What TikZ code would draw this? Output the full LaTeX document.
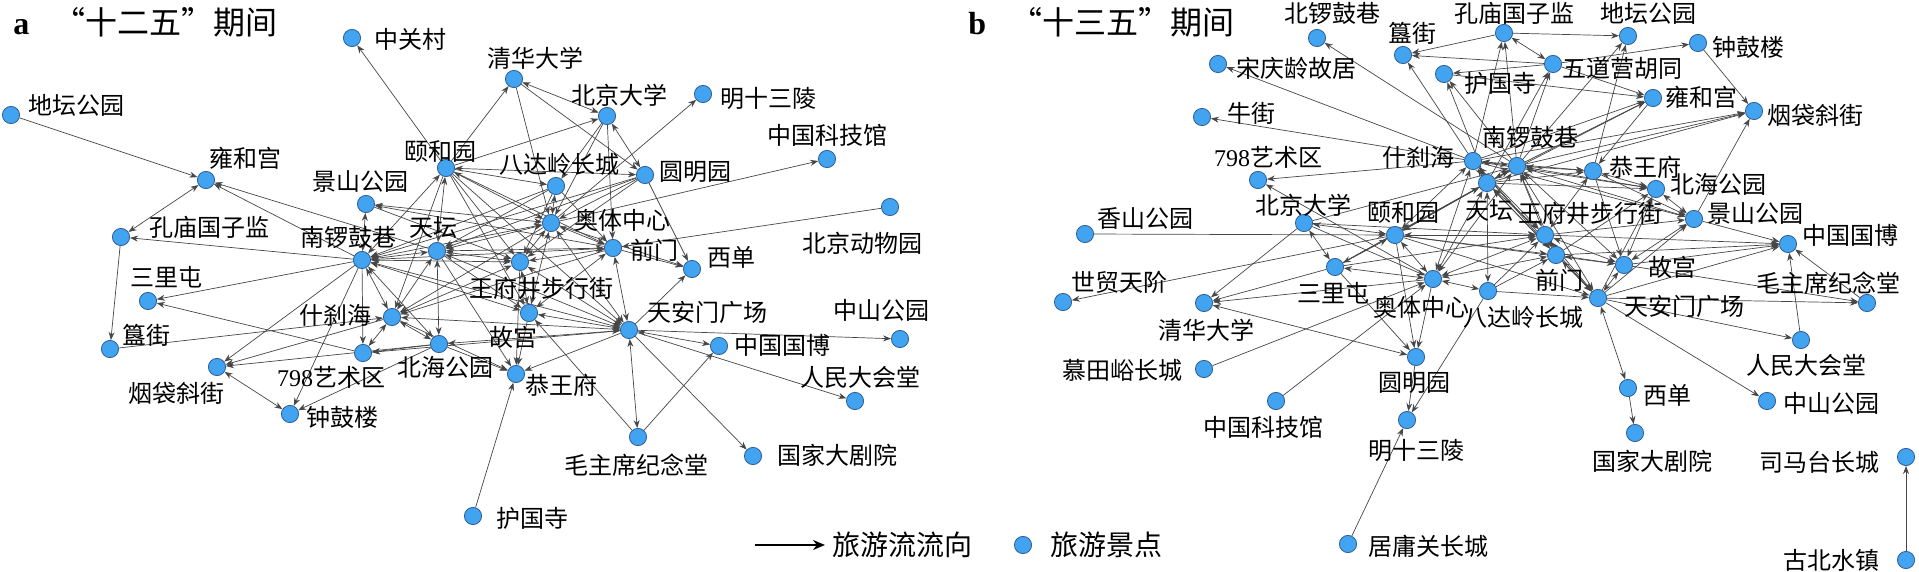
\documentclass[tikz,border=0pt]{standalone}
\usepackage{fontspec}
\setmainfont{Liberation Serif}
\newfontfamily\cjk{Noto Sans CJK SC}
\usetikzlibrary{arrows.meta,backgrounds}

\definecolor{spotfill}{RGB}{66,163,240}
\definecolor{spotline}{RGB}{45,95,150}
\definecolor{flowgray}{RGB}{70,70,70}

\begin{document}
\begin{tikzpicture}[
    x=0.5pt, y=-0.5pt,
    >={Stealth[length=4pt,width=3pt]},
    spot/.style={circle, fill=spotfill, draw=spotline, line width=0.4pt, inner sep=0pt, minimum size=8.6pt},
    lbl/.style={font=\cjk\fontsize{12}{12}\selectfont, inner sep=0pt},
    flow/.style={draw=flowgray, line width=0.35pt},
    titulo/.style={font=\fontsize{16}{16}\selectfont, inner sep=0pt, anchor=west},
    leyenda/.style={font=\cjk\fontsize{14}{14}\selectfont, inner sep=0pt, anchor=west}
  ]
  \useasboundingbox (0,0) rectangle (1919,572);

  % --- TITULOS ---
  \node[titulo] (ta) at (13,22) {\textbf{a}\hspace{12pt}{\cjk “十二五”期间}};
  \node[titulo] (tb) at (968,22) {\textbf{b}\hspace{12pt}{\cjk “十三五”期间}};

  % --- PANEL a: NODOS (nombre/x/y/etiqueta x/etiqueta y/texto) ---
  \foreach \n/\x/\y/\lx/\ly/\txt in {
      aZGC/352/38/410/39/中关村, aDTGY/11/115/76/105/地坛公园,
      aYHG/206/180/245/158/雍和宫, aYHY/446/168/440/152/颐和园,
      aJSGY/366/204/360/182/景山公园, aKMGZJ/121/237/209/227/孔庙国子监,
      aNLGX/362/260/348/237/南锣鼓巷, aTT/437/251/433/228/天坛,
      aSLT/148/301/166/277/三里屯, aQHDX/514/79/535/58/清华大学,
      aBJDX/607/116/619/95/北京大学, aMSSL/703/94/768/98/明十三陵,
      aZGKJG/827/159/827/135/中国科技馆, aYMY/645/175/695/172/圆明园,
      aBDL/556/186/559/164/八达岭长城, aBJDWY/890/207/862/243/北京动物园,
      aATZX/551/223/622/220/奥体中心, aQM/613/248/654/250/前门,
      aXD/692/269/731/257/西单, aWFJ/520/262/541/288/王府井步行街,
      aSCH/392/317/335/315/什刹海, aGJ/110/349/146/335/簋街,
      aBHGY/439/344/445/367/北海公园, a798/363/353/331/377/{\rmfamily 798}艺术区,
      aYDXJ/217/367/176/393/烟袋斜街, aZGL/290/414/342/417/钟鼓楼,
      aGG/529/313/513/337/故宫, aTAM/629/330/707/312/天安门广场,
      aZGGB/719/346/782/345/中国国博, aZSGY/900/339/881/310/中山公园,
      aGWF/516/374/561/385/恭王府, aRMDHT/855/401/860/377/人民大会堂,
      aMZX/638/437/636/465/毛主席纪念堂, aGJDJY/753/456/837/455/国家大剧院,
      aHGS/473/516/532/518/护国寺} {
    \node[spot] (\n) at (\x,\y) {};
    \node[lbl] (\n-l) at (\lx,\ly) {\txt};
  }

  % --- PANEL b: NODOS ---
  \foreach \n/\x/\y/\lx/\ly/\txt in {
      bBLGX/1317/38/1332/13/北锣鼓巷, bGJ/1403/55/1412/33/簋街,
      bSQL/1218/64/1296/68/宋庆龄故居, bHGS/1444/74/1500/83/护国寺,
      bNJ/1202/117/1251/113/牛街, bSCH/1473/161/1418/157/什刹海,
      b798/1258/180/1268/157/{\rmfamily 798}艺术区, bXSGY/1085/234/1145/218/香山公园,
      bBJDX/1304/223/1303/205/北京大学, bYHY/1395/235/1403/213/颐和园,
      bSLT/1335/267/1333/293/三里屯, bATZX/1433/279/1421/307/奥体中心,
      bKMGZJ/1504/33/1514/13/孔庙国子监, bDTGY/1628/36/1648/13/地坛公园,
      bZGL/1698/43/1748/47/钟鼓楼, bWDY/1553/64/1622/68/五道营胡同,
      bYHG/1653/98/1701/97/雍和宫, bYDXJ/1754/111/1815/115/烟袋斜街,
      bNLGX/1517/166/1530/137/南锣鼓巷, bTT/1487/183/1489/211/天坛,
      bGWF/1593/171/1645/167/恭王府, bBHGY/1656/189/1718/184/北海公园,
      bJSGY/1694/219/1755/214/景山公园, bZGGB/1788/244/1850/235/中国国博,
      bWFJ/1545/235/1590/213/王府井步行街, bQM/1556/255/1559/280/前门,
      bGG/1624/265/1672/267/故宫, bBDL/1488/291/1523/317/八达岭长城,
      bTAM/1598/298/1684/306/天安门广场, bMZX/1867/303/1828/283/毛主席纪念堂,
      bRMDHT/1801/340/1806/365/人民大会堂, bXD/1628/388/1667/395/西单,
      bZSGY/1767/401/1831/403/中山公园, bGJDJY/1635/433/1652/461/国家大剧院,
      bSMT/1906/457/1819/462/司马台长城, bGBSZ/1906/560/1831/560/古北水镇,
      bSMDJ/1063/302/1119/282/世贸天阶, bQHDX/1204/303/1206/330/清华大学,
      bMTY/1204/369/1122/370/慕田峪长城, bYMY/1416/357/1414/383/圆明园,
      bZGKJG/1276/401/1263/427/中国科技馆, bMSSL/1407/420/1416/450/明十三陵,
      bJYG/1348/544/1428/546/居庸关长城} {
    \node[spot] (\n) at (\x,\y) {};
    \node[lbl] (\n-l) at (\lx,\ly) {\txt};
  }

  % --- FLUJOS (debajo de los nodos) ---
  \begin{scope}[on background layer]
    % panel a, un sentido
    \foreach \s/\e in {aYHY/aZGC, aDTGY/aYHG, aNLGX/aYHG, aTT/aYHG, aNLGX/aKMGZJ,
        aKMGZJ/aGJ, aNLGX/aSLT, a798/aSLT, aGJ/aSCH, aNLGX/aYDXJ, aSCH/aYDXJ,
        aBHGY/aYDXJ, aNLGX/aZGL, aBHGY/aZGL, aBHGY/a798, aHGS/aGWF, aMZX/aZGGB,
        aMZX/aGG, aTAM/aGJDJY, aTAM/aRMDHT, aTAM/aZSGY, aTAM/aXD, aYMY/aXD,
        aQM/aXD, aATZX/aXD, aBJDWY/aQM, aATZX/aZGKJG, aATZX/aMSSL, aYHY/aQHDX,
        aYHY/aBJDX, aQHDX/aYMY, aBJDX/aQM, aQHDX/aATZX, aBJDX/aBDL, aBJDX/aATZX,
        aYHY/aWFJ, aYHY/aQM, aYHY/aGG, aYHY/aBDL, aQM/aJSGY, aJSGY/aWFJ,
        aBDL/aNLGX, aBDL/aTT, aBDL/aQM, aBDL/aWFJ, aYMY/aATZX, aYMY/aTT,
        aYMY/aNLGX, aYMY/aWFJ, aTAM/aGWF, aWFJ/aGWF, aTAM/a798, aNLGX/a798,
        aSCH/aGWF, aGG/aGWF, aBHGY/aGWF, aTT/aGG, aTT/aGWF, aATZX/aSCH,
        aQM/aSCH, aYHY/aTAM, aYHY/aSCH}
      \draw[flow, ->] (\s) -- (\e);
    % panel a, doble sentido
    \foreach \s/\e in {aYHG/aKMGZJ, aYDXJ/aZGL, a798/aSCH, aMZX/aTAM, aTAM/aZGGB,
        aQHDX/aBJDX, aBJDX/aYMY, aYHY/aYMY, aNLGX/aTT, aNLGX/aWFJ, aNLGX/aATZX,
        aNLGX/aQM, aNLGX/aSCH, aNLGX/aBHGY, aNLGX/aGG, aNLGX/aTAM, aNLGX/aYHY,
        aNLGX/aJSGY, aTT/aWFJ, aTT/aATZX, aTT/aQM, aTT/aYHY, aTT/aTAM, aTT/aBHGY,
        aTT/aSCH, aATZX/aWFJ, aATZX/aQM, aATZX/aBDL, aATZX/aYHY, aATZX/aTAM,
        aATZX/aGG, aATZX/aJSGY, aQM/aWFJ, aQM/aTAM, aQM/aGG, aWFJ/aGG, aWFJ/aTAM,
        aWFJ/aSCH, aSCH/aBHGY, aSCH/aTAM, aGG/aTAM, aBHGY/aTAM}
      \draw[flow, <->] (\s) -- (\e);
    % panel b, un sentido
    \foreach \s/\e in {bNLGX/bBLGX, bSCH/bSQL, bSCH/bNJ, bSCH/b798, bATZX/b798,
        bXSGY/bYHY, bYHY/bSMDJ, bBJDX/bQHDX, bSLT/bQHDX, bATZX/bQHDX, bMTY/bATZX,
        bZGKJG/bATZX, bATZX/bYMY, bSLT/bYMY, bYHY/bYMY, bYMY/bMSSL, bJYG/bMSSL,
        bBDL/bMSSL, bXD/bGJDJY, bTAM/bZSGY, bTAM/bRMDHT, bTAM/bMZX, bMZX/bZGGB,
        bRMDHT/bZGGB, bGG/bMZX, bTAM/bZGGB, bGG/bZGGB, bQM/bZGGB, bWFJ/bZGGB,
        bJSGY/bZGGB, bJSGY/bYDXJ, bZGL/bYDXJ, bWDY/bZGL, bKMGZJ/bDTGY, bWDY/bYHG,
        bNLGX/bDTGY, bGWF/bDTGY, bSCH/bKMGZJ, bNLGX/bKMGZJ, bKMGZJ/bGJ, bWDY/bGJ,
        bSCH/bGJ, bWDY/bHGS, bNLGX/bHGS, bTT/bHGS, bNLGX/bYHG, bYHG/bGWF,
        bSCH/bYHG, bTT/bYHG, bNLGX/bYDXJ, bSCH/bYDXJ, bTT/bYDXJ, bHGS/bYHG,
        bGBSZ/bSMT, bBJDX/bNLGX, bSLT/bNLGX, bSLT/bTT, bBDL/bTAM, bBDL/bWFJ,
        bBDL/bQM, bYHY/bQM, bYHY/bGG, bYHY/bTAM, bSCH/bBHGY, bSCH/bJSGY,
        bTT/bGWF, bTT/bBHGY, bGWF/bGG, bGWF/bJSGY, bTAM/bJSGY, bTAM/bBHGY,
        bQM/bBHGY, bWFJ/bJSGY, bSCH/bQM, bSCH/bTAM, bBJDX/bATZX, bBJDX/bWFJ,
        bSLT/bWFJ, bNLGX/bWDY, bTT/bWDY}
      \draw[flow, ->] (\s) -- (\e);
    % panel b, doble sentido
    \foreach \s/\e in {bKMGZJ/bWDY, bXD/bTAM, bBJDX/bSLT, bYMY/bQHDX, bBJDX/bYHY,
        bSCH/bNLGX, bSCH/bTT, bNLGX/bTT, bNLGX/bGWF, bNLGX/bBHGY, bNLGX/bJSGY,
        bNLGX/bWFJ, bNLGX/bQM, bNLGX/bGG, bNLGX/bTAM, bNLGX/bATZX, bNLGX/bYHY,
        bTT/bWFJ, bTT/bQM, bTT/bATZX, bTT/bYHY, bTT/bTAM, bTT/bBDL, bSCH/bGWF,
        bSCH/bYHY, bSCH/bATZX, bSCH/bWFJ, bWFJ/bQM, bWFJ/bGG, bWFJ/bTAM,
        bWFJ/bATZX, bQM/bGG, bQM/bTAM, bQM/bATZX, bGG/bTAM, bGWF/bBHGY,
        bGWF/bWFJ, bBHGY/bJSGY, bBHGY/bGG, bJSGY/bGG, bYHY/bATZX, bYHY/bSLT,
        bYHY/bWFJ, bATZX/bBDL, bATZX/bSLT}
      \draw[flow, <->] (\s) -- (\e);
  \end{scope}

  % --- LEYENDA ---
  \coordinate (lg1) at (755,545);
  \coordinate (lg2) at (825,545);
  \draw[line width=1.2pt, -{Stealth[length=6pt,width=5pt]}] (lg1) -- (lg2);
  \node[leyenda] (lgt1) at (832,545) {旅游流流向};
  \node[spot] (lgs) at (1023,545) {};
  \node[leyenda] (lgt2) at (1050,545) {旅游景点};

\end{tikzpicture}
\end{document}
